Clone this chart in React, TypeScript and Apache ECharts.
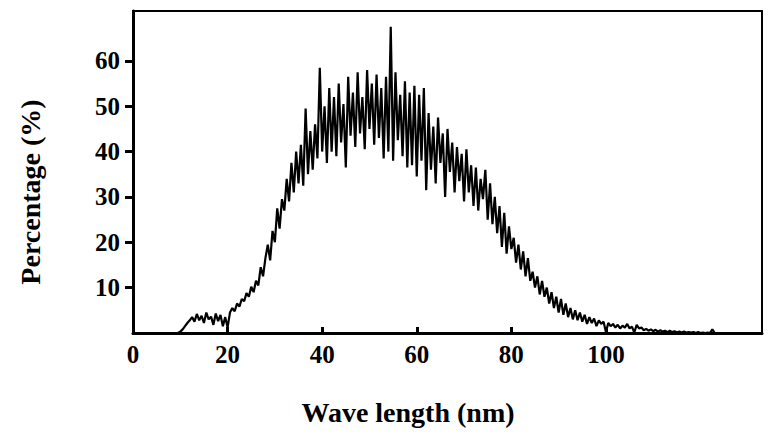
import React, { useEffect, useRef } from "react";
import * as echarts from "echarts";

const wavelengthStart = 9.5;
const wavelengthStep = 0.5;

const percentage: number[] = [
  // 9.5 - 12
  0, 0.3, 0.8, 1.5, 2.2, 2.8,
  // 12.5 - 20
  3.5, 2.5, 4.2, 2.8, 3.8, 2.2, 4.5, 3.0, 3.6, 1.8, 4.3, 2.6, 4.0, 1.5, 3.5, 1.2,
  // 20.5 - 30
  4.5, 5.5, 4.8, 6.5, 5.8, 7.5, 7.0, 8.8, 8.0, 10.2, 9.0, 11.5, 10.5, 14.5, 12.5, 16.5, 19.5, 16.0, 22.5, 20.0,
  // 30.5 - 40
  27.5, 23.0, 29.5, 27.0, 34.0, 29.0, 37.5, 31.0, 40.0, 33.0, 41.5, 32.5, 49.5, 35.0, 44.5, 36.0, 46.0, 38.5, 58.5, 40.0,
  // 40.5 - 50
  50.0, 37.5, 54.0, 40.0, 52.0, 39.0, 55.0, 42.0, 50.5, 36.5, 56.5, 43.5, 53.0, 41.0, 57.5, 44.0, 52.0, 40.5, 58.0, 45.0,
  // 50.5 - 60
  55.0, 41.5, 57.0, 43.0, 54.0, 38.5, 56.5, 40.0, 67.5, 38.0, 57.5, 42.5, 52.5, 39.0, 55.5, 36.5, 53.0, 37.0, 54.5, 34.5,
  // 60.5 - 70
  52.5, 38.0, 54.0, 31.5, 48.5, 36.0, 45.5, 33.0, 47.5, 37.5, 44.0, 30.0, 45.0, 35.5, 42.0, 31.0, 41.0, 33.5, 39.5, 29.0,
  // 70.5 - 80
  40.5, 31.0, 37.0, 28.0, 36.5, 27.0, 34.0, 29.5, 36.0, 25.0, 33.0, 24.0, 30.0, 22.0, 28.0, 19.0, 26.5, 17.5, 23.5, 18.5,
  // 80.5 - 90
  21.0, 15.5, 19.5, 14.0, 18.0, 12.5, 16.5, 11.5, 13.5, 10.0, 12.5, 8.5, 11.5, 8.0, 10.0, 6.5, 9.0, 5.5, 8.0, 4.5,
  // 90.5 - 100
  7.5, 4.0, 6.5, 3.5, 5.5, 3.0, 5.0, 2.8, 4.5, 2.5, 4.0, 2.0, 3.5, 2.2, 3.2, 1.5, 2.8, 2.0, 2.5, 0.2,
  // 100.5 - 110
  2.2, 1.5, 2.0, 1.2, 1.8, 1.0, 1.6, 1.2, 2.0, 1.0, 1.4, 0.1, 1.8, 1.0, 1.2, 0.6, 0.9, 0.5, 0.8, 0.4,
  // 110.5 - 123
  0.7, 0.3, 0.6, 0.3, 0.5, 0.2, 0.5, 0.2, 0.4, 0.1, 0.3, 0.1, 0.3, 0.1, 0.2, 0.1, 0.2, 0, 0.2, 0, 0.1, 0, 0.1, 0, 0.8, 0,
];

const xTickLabels = [0, 20, 40, 60, 80, 100];
const xTickMarks = [20, 40, 60, 80, 100];
const yTickLabels = [10, 20, 30, 40, 50, 60];

const xName = "Wave length (nm)";
const yName = "Percentage (%)";

const FONT = "'Liberation Serif', 'DejaVu Serif', serif";

export default function App() {
  const ref = useRef<HTMLDivElement>(null);
  useEffect(() => {
    if (!ref.current) return;
    const chart = echarts.init(ref.current, undefined, { renderer: "svg" });
    const data = percentage.map((v, i) => [wavelengthStart + i * wavelengthStep, v]);
    chart.setOption({
      animation: false,
      backgroundColor: "#fff",
      grid: {
        left: 133,
        right: 6,
        top: 11,
        bottom: 113,
        show: true,
        borderColor: "#000",
        borderWidth: 2,
        backgroundColor: "transparent",
      },
      xAxis: {
        type: "value",
        min: 0,
        max: 133,
        splitLine: { show: false },
        axisLine: { lineStyle: { color: "#000", width: 3 } },
        axisTick: {
          show: true,
          inside: true,
          length: 6,
          lineStyle: { color: "#000", width: 3 },
          customValues: xTickMarks,
        },
        axisLabel: {
          fontFamily: FONT,
          fontWeight: "bold",
          fontSize: 25,
          color: "#000",
          margin: 9,
          customValues: xTickLabels,
        },
      },
      yAxis: {
        type: "value",
        min: 0,
        max: 71,
        splitLine: { show: false },
        axisLine: { lineStyle: { color: "#000", width: 3 } },
        axisTick: {
          show: true,
          inside: false,
          length: 8,
          lineStyle: { color: "#000", width: 3 },
          customValues: yTickLabels,
        },
        axisLabel: {
          fontFamily: FONT,
          fontWeight: "bold",
          fontSize: 25,
          color: "#000",
          margin: 13,
          customValues: yTickLabels,
        },
      },
      graphic: [
        {
          type: "text",
          x: 408,
          y: 412,
          style: {
            text: xName,
            fontFamily: FONT,
            fontWeight: "bold",
            fontSize: 28,
            fill: "#000",
            align: "center",
            verticalAlign: "middle",
          },
        },
        {
          type: "text",
          x: 30,
          y: 192,
          rotation: Math.PI / 2,
          style: {
            text: yName,
            fontFamily: FONT,
            fontWeight: "bold",
            fontSize: 28,
            fill: "#000",
            align: "center",
            verticalAlign: "middle",
          },
        },
      ],
      series: [
        {
          type: "line",
          data,
          showSymbol: false,
          symbol: "none",
          lineStyle: { color: "#000", width: 2.2 },
        },
      ],
    });
    return () => chart.dispose();
  }, []);
  return (
    <div
      ref={ref}
      style={{ position: "absolute", left: 0, top: 0, width: 768, height: 446 }}
    />
  );
}
